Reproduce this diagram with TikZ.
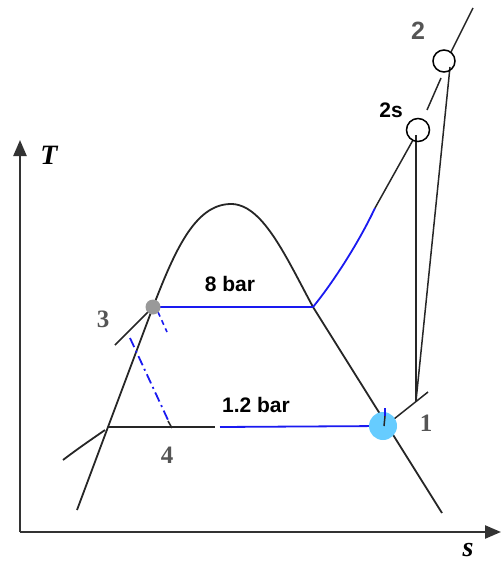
\documentclass[tikz,border=0pt]{standalone}
\usepackage{fontspec}
\setmainfont{Liberation Serif}
\setsansfont{Liberation Sans}
\usetikzlibrary{arrows.meta}
\definecolor{lblue}{HTML}{66CCFF}
\definecolor{pgray}{HTML}{999999}
\definecolor{lgray}{HTML}{555555}
\definecolor{pblue}{HTML}{1A1AF0}
\begin{document}
\begin{tikzpicture}[x=1pt,y=-1pt,
  curve/.style={line width=1.8pt,black!85},
  thin line/.style={line width=1.5pt,black!85},
  iso/.style={line width=1.8pt,pblue},
  axis/.style={line width=2.4pt,black!80,-{Triangle[length=16pt,width=13pt]}},
  sanslab/.style={font=\sffamily\bfseries\fontsize{21}{23}\selectfont},
  numlab/.style={font=\bfseries\fontsize{25}{27}\selectfont,text=lgray},
  axlab/.style={font=\bfseries\itshape\fontsize{28}{30}\selectfont}]
\useasboundingbox (0,0) rectangle (501,567);
% axes
\coordinate (O) at (20,532);
\coordinate (Ty) at (20,140);
\coordinate (Sx) at (501,532);
\draw[axis] (O) -- (Ty);
\draw[axis] (O) -- (Sx);
\node[axlab] (T) at (49,155) {\textbf{\textit{T}}};
\node[axlab] (s) at (468,550) {\textbf{\textit{s}}};
% key points
\coordinate (p3) at (153,307);
\coordinate (pg) at (313,307);
\coordinate (pf) at (108,427);
\coordinate (p1) at (383,426);
\coordinate (p2s) at (418,130);
\coordinate (p2) at (444,61);
\coordinate (pk) at (416,401);
% dome
\draw[curve] (77,510) -- (pf) -- (p3)
  .. controls (175,250) and (195,205) .. (230,204)
  .. controls (262,203) and (285,255) .. (pg) -- (442,513);
% isobars
\draw[iso] (p3) -- (pg);
\draw[iso] (pg) .. controls (335,280) and (360,240) .. (375,208);
\draw[thin line] (375,208) -- (413,140);
\draw[thin line] (pf) -- (215,427);
\draw[iso] (220,427) -- (p1);
% other lines
\draw[thin line] (p3) -- (115,345);
\draw[curve] (63,460) .. controls (80,447) and (95,437) .. (105,430);
\draw[iso,line width=1.6pt,dash pattern=on 5pt off 4pt] (158,312) -- (167,332);
\draw[iso,line width=1.8pt,dash pattern=on 10pt off 4pt on 2pt off 4pt] (130,338) -- (168,420);
\draw[thin line] (168,421) -- (172,428);
% compression
\draw[thin line] (394,419) -- (428,392);
\draw[thin line] (pk) -- (416,135);
\draw[thin line] (pk) -- (450,67);
\draw[thin line] (427,110) -- (441,78);
\draw[thin line] (451,52) -- (473,8);
% markers
\node[circle,fill=pgray,minimum size=15pt,inner sep=0pt] (n3) at (p3) {};
\node[circle,fill=lblue,minimum size=28pt,inner sep=0pt] (n1) at (p1) {};
\draw[iso] (385,408) -- (385,416);
\draw[thin line] (385,416) -- (384,426);
\node[circle,draw=black,line width=1.5pt,minimum size=23pt,inner sep=0pt] (n2s) at (p2s) {};
\node[circle,draw=black,line width=1.5pt,minimum size=22pt,inner sep=0pt] (n2) at (p2) {};
% labels
\node[sanslab] (l8) at (230,284) {8 bar};
\node[sanslab] (l12) at (256,405) {1.2 bar};
\node[sanslab] (l2s) at (391,110) {2s};
\node[sanslab,text=lgray,font=\sffamily\bfseries\fontsize{25}{27}\selectfont] (l2) at (418,31) {2};
\node[numlab] (l3) at (103,319) {3};
\node[numlab] (l4) at (167,455) {4};
\node[numlab] (l1) at (426,423) {1};
\end{tikzpicture}
\end{document}
